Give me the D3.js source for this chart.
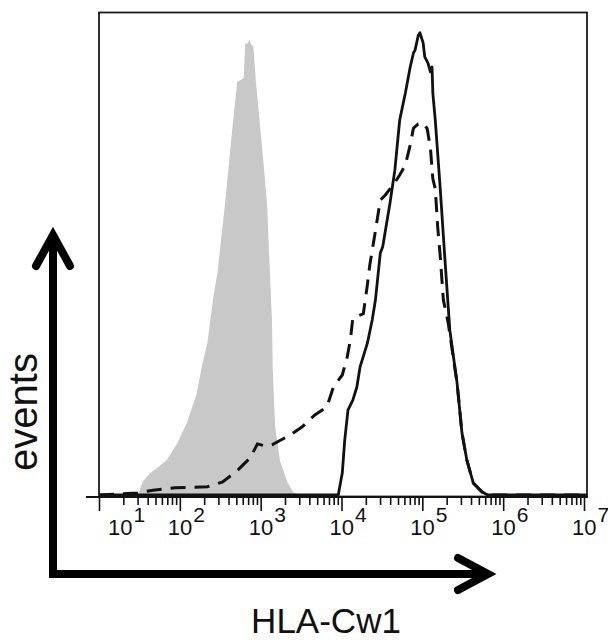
<!DOCTYPE html>
<html lang="en">
<head>
<meta charset="utf-8">
<script src="https://d3js.org/d3.v7.min.js"></script>
<style type="text/css">
body { margin: 0; background: #fff; }
text { font-family: "Liberation Sans", Arial, sans-serif; fill: #111; }
</style>
</head>
<body>
<script type="text/javascript">

// histogram data, x in log10 units, y in relative counts
var isotype = [[1.48,0],[1.54,2.7],[1.63,4.5],[1.72,5.6],[1.84,7.3],[1.97,10.8],[2.09,15.1],[2.21,21.1],
  [2.27,26.5],[2.34,31.5],[2.41,40.5],[2.47,46.7],[2.56,60.6],[2.66,77.8],[2.71,85.7],[2.74,86],[2.79,86.5],
  [2.81,94],[2.83,93.5],[2.86,94.5],[2.88,93.5],[2.91,93],[2.94,86],[2.99,77],[3.04,68],[3.08,60],[3.14,36],
  [3.15,26],[3.18,14],[3.24,7],[3.33,2.7],[3.40,0.6],[3.49,0]];

var stained = [[1,0],[3.92,0],[3.96,0],[4.01,4.6],[4.04,11.4],[4.08,17.6],[4.14,19.7],[4.19,22.4],[4.23,26.6],
  [4.32,31.5],[4.38,36.3],[4.42,40.5],[4.48,50.2],[4.51,51.5],[4.60,60.6],[4.66,67.4],[4.72,77.8],[4.79,83.4],
  [4.85,88.8],[4.89,91.7],[4.91,92.3],[4.95,95.4],[4.97,95.9],[5.01,93.8],[5.03,90.9],[5.07,89.6],[5.10,87.8],
  [5.12,88.8],[5.13,83.4],[5.16,77.8],[5.22,63.9],[5.28,48.8],[5.34,34.2],[5.43,23.2],[5.49,12.9],[5.55,7.3],
  [5.63,2.5],[5.74,0.6],[5.81,0],[7.04,0]];

var blocked = [[1,0],[1.47,0.4],[1.67,1],[1.94,1.5],[2.34,1.7],[2.53,2.7],[2.72,5.2],[2.87,7.7],[2.96,10.6],
  [3.05,10.2],[3.14,10.4],[3.36,12.4],[3.51,14.1],[3.67,16.6],[3.82,18.3],[3.90,22.4],[4.01,24.9],[4.07,28.6],
  [4.11,32.2],[4.14,36.7],[4.27,37.6],[4.32,43.6],[4.35,47.7],[4.42,54.8],[4.48,61.2],[4.54,62.2],[4.60,63.5],
  [4.64,64.3],[4.72,66.4],[4.79,68.5],[4.85,72.6],[4.89,76.1],[4.95,77],[5.01,77.2],[5.06,76],[5.10,72],
  [5.13,65.6],[5.16,63.5],[5.19,55.6],[5.22,49.8],[5.26,40.5],[5.32,35.7],[5.37,30],[5.43,23.2],[5.49,12.9],
  [5.55,7.3],[5.63,2.5],[5.74,0.6],[5.84,0],[7.04,0]];

var exponents = [1, 2, 3, 4, 5, 6, 7];
var xTitle = "HLA-Cw1";
var yTitle = "events";

var width = 608, height = 644;

var svg = d3.select("body").append("svg")
    .attr("width", width)
    .attr("height", height);

var x = d3.scaleLog().domain([10, 1e7]).range([99, 584]);
var y = d3.scaleLinear().domain([0, 100]).range([495, 13]);

function px(d) { return x(Math.pow(10, d[0])); }

// gray filled isotype
svg.append("path")
    .datum(isotype)
    .attr("fill", "#c8c8c8")
    .attr("d", d3.area().x(px).y0(y(0)).y1(function(d) { return y(d[1]); }));

// dashed line
svg.append("path")
    .datum(blocked)
    .attr("fill", "none")
    .attr("stroke", "#111")
    .attr("stroke-width", 3)
    .attr("stroke-dasharray", "15,9")
    .attr("d", d3.line().x(px).y(function(d) { return y(d[1]); }));

// solid line
svg.append("path")
    .datum(stained)
    .attr("fill", "none")
    .attr("stroke", "#111")
    .attr("stroke-width", 2.8)
    .attr("stroke-linejoin", "round")
    .attr("d", d3.line().x(px).y(function(d) { return y(d[1]); }));

// frame
svg.append("rect")
    .attr("x", 99).attr("y", 12.5)
    .attr("width", 488).attr("height", 484)
    .attr("fill", "none")
    .attr("stroke", "#1a1a1a")
    .attr("stroke-width", 1.8);

// axis line and ticks
svg.append("line")
    .attr("x1", 86).attr("x2", 588)
    .attr("y1", 497).attr("y2", 497)
    .attr("stroke", "#111").attr("stroke-width", 2.2);

var minorVals = [];
exponents.slice(0, -1).forEach(function(e) {
  for (var m = 2; m < 10; m++) minorVals.push(m * Math.pow(10, e));
});

var minorAxis = svg.append("g")
    .attr("transform", "translate(0,497)")
    .call(d3.axisBottom(x).tickValues(minorVals).tickSize(8).tickFormat(""));
var majorAxis = svg.append("g")
    .attr("transform", "translate(0,497)")
    .call(d3.axisBottom(x).tickValues(exponents.map(function(e) { return Math.pow(10, e); }))
      .tickSize(14).tickFormat(""));
[minorAxis, majorAxis].forEach(function(g) {
  g.select(".domain").remove();
  g.selectAll(".tick line").attr("stroke", "#111").attr("stroke-width", 1.6);
});

// tick labels 10^n
var labels = svg.selectAll(".pow")
    .data(exponents)
    .enter()
    .append("text")
    .attr("class", "pow")
    .attr("x", function(e) { return x(Math.pow(10, e)) - 12 + (e === 1 ? 21 : 0); })
    .attr("y", 535)
    .style("font-size", "22px");
labels.append("tspan").text("10");
labels.append("tspan")
    .attr("dx", 1)
    .attr("dy", -13)
    .style("font-size", "21px")
    .text(function(e) { return e; });

// arrows
svg.append("path")
    .attr("d", "M53,238 L53,574 L486,574")
    .attr("fill", "none")
    .attr("stroke", "#000")
    .attr("stroke-width", 8)
    .attr("stroke-linejoin", "miter");
svg.append("path")
    .attr("d", "M36,266 L53,235 L70,266")
    .attr("fill", "none")
    .attr("stroke", "#000")
    .attr("stroke-width", 8)
    .attr("stroke-linecap", "round")
    .attr("stroke-linejoin", "miter");
svg.append("path")
    .attr("d", "M458,558 L488,574 L458,590")
    .attr("fill", "none")
    .attr("stroke", "#000")
    .attr("stroke-width", 8)
    .attr("stroke-linecap", "round")
    .attr("stroke-linejoin", "miter");

// axis titles
svg.append("text")
    .attr("transform", "translate(37,412) rotate(-90)")
    .attr("text-anchor", "middle")
    .style("font-size", "40px")
    .text(yTitle);
svg.append("text")
    .attr("x", 326)
    .attr("y", 633)
    .attr("text-anchor", "middle")
    .style("font-size", "35px")
    .text(xTitle);

</script>
</body>
</html>
